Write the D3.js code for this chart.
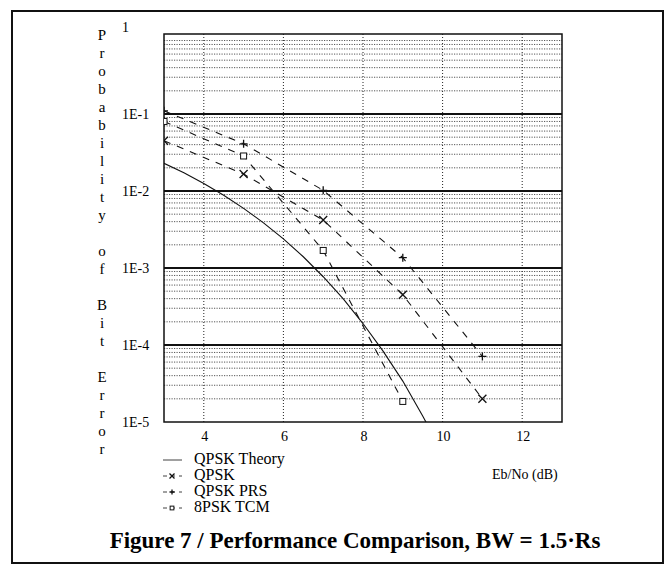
<!DOCTYPE html>
<html>
<head>
<meta charset="utf-8">
<script src="https://cdn.jsdelivr.net/npm/d3@7"></script>
<style>
  body { margin: 0; background: #fff; }
  svg { display: block; }
</style>
</head>
<body>
<div id="container"></div>
<script>
let w = 664;
let h = 564;
let serif = "'Liberation Serif', 'Times New Roman', serif";

// data (Eb/No in dB, bit error probability)
let theoryEbNo = [3, 3.5, 4, 4.5, 5, 5.5, 6, 6.5, 7, 7.5, 8, 8.5, 9, 9.5, 10];
let theoryBer = [2.29e-2, 1.72e-2, 1.25e-2, 8.8e-3, 5.95e-3, 3.86e-3, 2.39e-3, 1.4e-3, 7.7e-4, 4.0e-4, 1.9e-4, 8.4e-5, 3.4e-5, 1.2e-5, 3.9e-6];

let qpskEbNo = [3, 5, 7, 9, 11];
let qpskBer = [0.045, 0.0166, 4.2e-3, 4.5e-4, 2.0e-5];

let prsEbNo = [3, 5, 7, 9, 11];
let prsBer = [0.11, 0.041, 0.0102, 1.36e-3, 7.1e-5];

let tcmEbNo = [3, 5, 7, 9];
let tcmBer = [0.08, 0.0285, 1.69e-3, 1.85e-5];

let xTicks = [4, 6, 8, 10, 12];
let yTicks = [1, 1e-1, 1e-2, 1e-3, 1e-4, 1e-5];
let yTickLabels = ["1", "1E-1", "1E-2", "1E-3", "1E-4", "1E-5"];
let legendNames = ["QPSK Theory", "QPSK", "QPSK PRS", "8PSK TCM"];
let yTitle = "Probability of Bit Error";
let xTitle = "Eb/No (dB)";
let caption = "Figure 7 / Performance Comparison, BW = 1.5\u00B7Rs";

let plot = {left: 164, right: 562, top: 34, bottom: 422};

let viz = d3.select("#container").append("svg")
  .attr("width", w)
  .attr("height", h);

// outer frame
viz.append("rect")
  .attr("x", 12).attr("y", 11)
  .attr("width", 651).attr("height", 552)
  .attr("fill", "none").attr("stroke", "#111").attr("stroke-width", 2);

let x = d3.scaleLinear().domain([3, 13]).range([plot.left, plot.right]);
let y = d3.scaleLog().domain([1e-5, 1]).range([plot.bottom, 37]);

// minor grid lines (2..9 in every decade)
let minor = [];
for (let e = -5; e < 0; e++) {
  for (let m = 2; m <= 9; m++) minor.push(m * Math.pow(10, e));
}
let grid = viz.append("g").attr("class", "grid");
grid.selectAll(".minor").data(minor).enter()
  .append("line")
  .attr("class", "minor")
  .attr("x1", plot.left).attr("x2", plot.right)
  .attr("y1", d => y(d)).attr("y2", d => y(d))
  .attr("stroke", "#444").attr("stroke-width", 0.9)
  .attr("stroke-dasharray", "1.2,1.3");

grid.selectAll(".vgrid").data(xTicks).enter()
  .append("line")
  .attr("class", "vgrid")
  .attr("x1", d => x(d)).attr("x2", d => x(d))
  .attr("y1", plot.top).attr("y2", plot.bottom)
  .attr("stroke", "#222").attr("stroke-width", 1)
  .attr("stroke-dasharray", "1,2");

grid.selectAll(".major").data(yTicks.slice(1, 5)).enter()
  .append("line")
  .attr("class", "major")
  .attr("x1", plot.left).attr("x2", plot.right)
  .attr("y1", d => y(d)).attr("y2", d => y(d))
  .attr("stroke", "#111").attr("stroke-width", 1.8);

// plot border
viz.append("rect")
  .attr("x", plot.left).attr("y", plot.top)
  .attr("width", plot.right - plot.left).attr("height", plot.bottom - plot.top)
  .attr("fill", "none").attr("stroke", "#111").attr("stroke-width", 1.5);

// tick labels
viz.selectAll(".ylab").data(yTicks).enter()
  .append("text")
  .attr("class", "ylab")
  .attr("x", 122)
  .attr("y", (d, i) => i == 0 ? 29 : y(d) + 2)
  .attr("dominant-baseline", "middle")
  .attr("font-family", serif).attr("font-size", 14)
  .text((d, i) => yTickLabels[i]);

viz.selectAll(".xlab").data(xTicks).enter()
  .append("text")
  .attr("class", "xlab")
  .attr("x", d => x(d) + 1)
  .attr("y", 438)
  .attr("dominant-baseline", "middle")
  .attr("text-anchor", "middle")
  .attr("font-family", serif).attr("font-size", 14)
  .text(d => d);

// vertical stacked y title
viz.selectAll(".ytitle").data(yTitle.split("")).enter()
  .append("text")
  .attr("class", "ytitle")
  .attr("x", 102)
  .attr("y", (d, i) => 37 + i * 17.96)
  .attr("dominant-baseline", "middle")
  .attr("text-anchor", "middle")
  .attr("font-family", serif).attr("font-size", 15)
  .text(d => d);

viz.append("text")
  .attr("x", 492).attr("y", 476)
  .attr("dominant-baseline", "middle")
  .attr("font-family", serif).attr("font-size", 14)
  .text(xTitle);

// curves
viz.append("clipPath").attr("id", "clip")
  .append("rect")
  .attr("x", plot.left).attr("y", plot.top)
  .attr("width", plot.right - plot.left).attr("height", plot.bottom - plot.top);

let curves = viz.append("g").attr("clip-path", "url(#clip)");
let line = d3.line().x(d => x(d[0])).y(d => y(d[1]));

let series = [
  {xs: theoryEbNo, ys: theoryBer, dash: null, marker: null},
  {xs: qpskEbNo, ys: qpskBer, dash: "7,7", marker: "x"},
  {xs: prsEbNo, ys: prsBer, dash: "7,7", marker: "plus"},
  {xs: tcmEbNo, ys: tcmBer, dash: "7,7", marker: "square"}
];

function drawMarker(g, type, cx, cy, s) {
  if (type == "x") {
    g.append("path")
      .attr("d", `M${cx - s},${cy - s}L${cx + s},${cy + s}M${cx - s},${cy + s}L${cx + s},${cy - s}`)
      .attr("stroke", "#111").attr("stroke-width", 1.3).attr("fill", "none");
  } else if (type == "plus") {
    g.append("path")
      .attr("d", `M${cx - s},${cy}L${cx + s},${cy}M${cx},${cy - s}L${cx},${cy + s}`)
      .attr("stroke", "#111").attr("stroke-width", 1.3).attr("fill", "none");
  } else if (type == "square") {
    g.append("rect")
      .attr("x", cx - s * 0.75).attr("y", cy - s * 0.75)
      .attr("width", s * 1.5).attr("height", s * 1.5)
      .attr("stroke", "#111").attr("stroke-width", 1).attr("fill", "#fff");
  }
}

series.forEach(function (sr) {
  let pts = sr.xs.map((v, i) => [v, sr.ys[i]]);
  curves.append("path")
    .datum(pts)
    .attr("d", line)
    .attr("fill", "none")
    .attr("stroke", "#111")
    .attr("stroke-width", 1.1)
    .attr("stroke-dasharray", sr.dash);
  if (sr.marker) {
    pts.forEach(p => drawMarker(curves, sr.marker, x(p[0]), y(p[1]), 4));
  }
});

// legend
let legend = viz.append("g").attr("class", "legend");
legendNames.forEach(function (name, i) {
  let ly = 460 + i * 16;
  let sr = series[i];
  legend.append("line")
    .attr("x1", 163).attr("x2", 182)
    .attr("y1", ly).attr("y2", ly)
    .attr("stroke", "#111").attr("stroke-width", 0.8)
    .attr("stroke-dasharray", sr.dash ? "4,4" : null);
  if (sr.marker) drawMarker(legend, sr.marker, 172, ly, 2.5);
  legend.append("text")
    .attr("x", 194).attr("y", ly)
    .attr("dominant-baseline", "middle")
    .attr("font-family", serif).attr("font-size", 16)
    .text(name);
});

viz.append("text")
  .attr("x", 355).attr("y", 543)
  .attr("dominant-baseline", "middle")
  .attr("text-anchor", "middle")
  .attr("font-family", serif).attr("font-size", 23).attr("font-weight", "bold")
  .text(caption);
</script>
</body>
</html>
